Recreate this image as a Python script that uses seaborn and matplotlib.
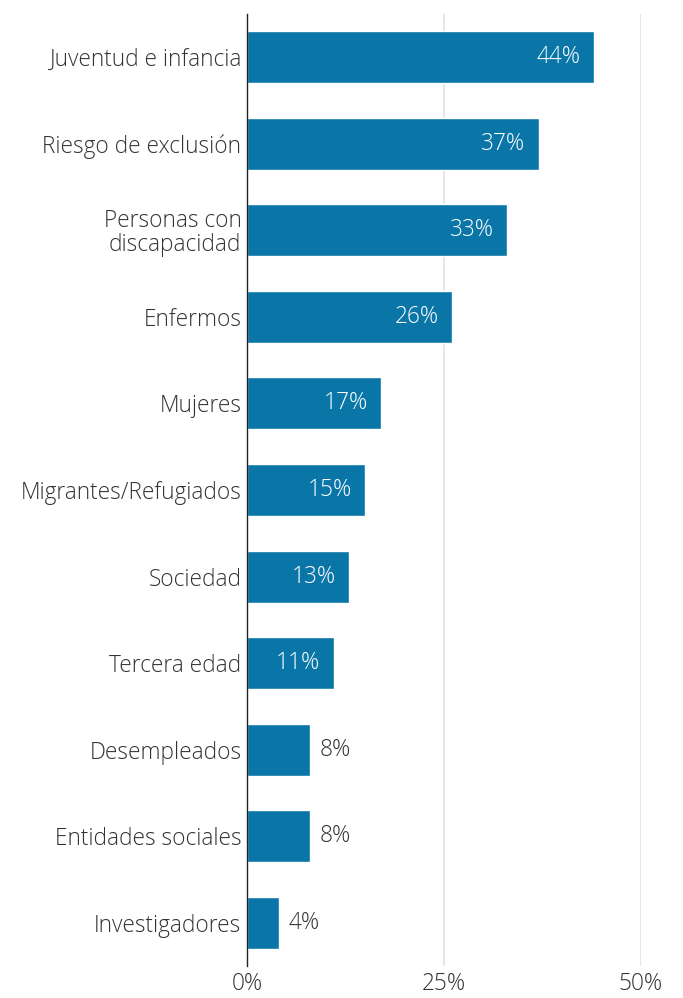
import matplotlib
matplotlib.use("Agg")
import matplotlib.pyplot as plt
import seaborn as sns
import pandas as pd

categories = ["Juventud e infancia", "Riesgo de exclusión", "Personas con\ndiscapacidad",
              "Enfermos", "Mujeres", "Migrantes/Refugiados", "Sociedad", "Tercera edad",
              "Desempleados", "Entidades sociales", "Investigadores"]
values = [44, 37, 33, 26, 17, 15, 13, 11, 8, 8, 4]
tick_values = [0, 25, 50]
tick_labels = ["0%", "25%", "50%"]

sns.set_theme(style="white")
plt.rcParams['font.family'] = ['Open Sans', 'DejaVu Sans']

FS = 16.3
df = pd.DataFrame({"cat": categories, "val": values})
fig = plt.figure(figsize=(6.83, 9.98), dpi=100)
ax = fig.add_axes([247/683, 1-966/998, (641-247)/683, (966-14)/998])
sns.barplot(data=df, y="cat", x="val", orient="h", color="#0a76a8", saturation=1,
            width=0.6, ax=ax)
ax.set_xlim(0, 50)
ax.set_ylim(10.5, -0.5)
ax.set_xticks(tick_values)
ax.set_xticklabels(tick_labels, fontsize=FS, color="#333333", fontweight="light")
ax.tick_params(axis="x", length=0, pad=4)
ax.tick_params(axis="y", length=0, pad=4)
for lab in ax.get_yticklabels():
    lab.set_fontsize(FS)
    lab.set_color("#333333")
    lab.set_fontweight("light")
    lab.set_linespacing(1.0)
ax.set_xlabel("")
ax.set_ylabel("")
for s in ["top", "right", "bottom"]:
    ax.spines[s].set_visible(False)
ax.spines["left"].set_color("#222222")
ax.spines["left"].set_linewidth(1.0)
for v in [25, 50]:
    ax.axvline(v, color="#e3e3e3", lw=1.2, zorder=0)

for i, v in enumerate(values):
    if v > 10:
        ax.annotate(f"{v}%", (v, i), xytext=(-9.5, 0), textcoords="offset points",
                    ha="right", va="center", color="white", fontsize=FS, fontweight="light")
    else:
        ax.annotate(f"{v}%", (v, i), xytext=(7, 0), textcoords="offset points",
                    ha="left", va="center", color="#333333", fontsize=FS, fontweight="light")

fig.savefig("out.png", dpi=100)
